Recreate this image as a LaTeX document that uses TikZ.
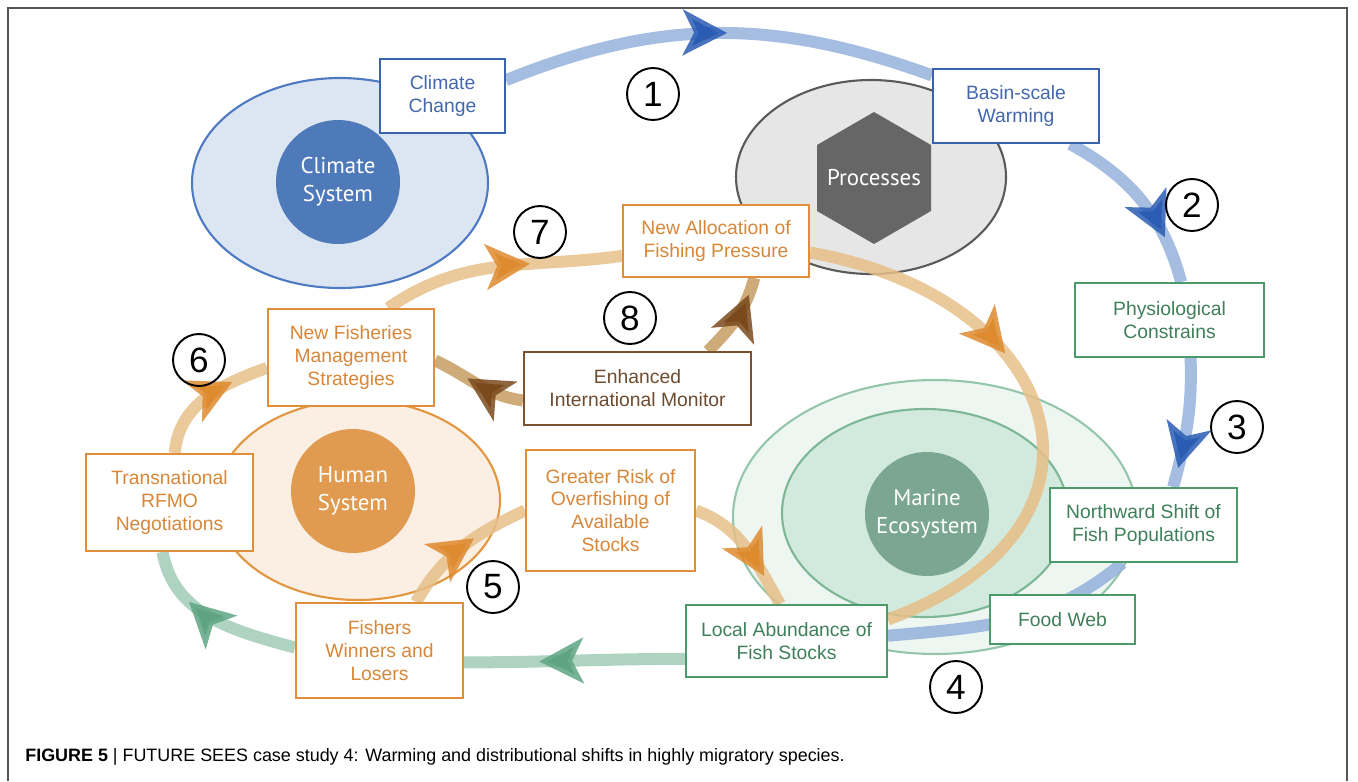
\documentclass[tikz,border=0pt]{standalone}
\usepackage{fontspec}
\setmainfont{Liberation Sans}
\newfontfamily\labfont{PT Sans}
\usetikzlibrary{arrows.meta,decorations.markings}
\pgfdeclarelayer{ell}
\pgfdeclarelayer{band}
\pgfsetlayers{ell,band,main}

\definecolor{cblue}{HTML}{3B63AC}
\definecolor{tblue}{HTML}{4468AE}
\definecolor{cgreen}{HTML}{4C9A6A}
\definecolor{tgreen}{HTML}{3F7F5A}
\definecolor{corange}{HTML}{E08E3A}
\definecolor{torange}{HTML}{D8873A}
\definecolor{cbrown}{HTML}{7B5230}
\definecolor{tbrown}{HTML}{6E4C30}
\definecolor{bandblue}{HTML}{94B1DC}
\definecolor{tipblue}{HTML}{2A5CB3}
\definecolor{bandtan}{HTML}{E6BF88}
\definecolor{tiporange}{HTML}{DE8A2E}
\definecolor{bandbrown}{HTML}{C79C62}
\definecolor{tipbrown}{HTML}{7A4A1C}
\definecolor{bandgreen}{HTML}{A0CCB6}
\definecolor{tipgreen}{HTML}{5EA483}
\definecolor{climfill}{HTML}{DCE5F2}
\definecolor{climline}{HTML}{4D7AC2}
\definecolor{climdot}{HTML}{4F7AB9}
\definecolor{procfill}{HTML}{E6E6E6}
\definecolor{procline}{HTML}{5A5A5A}
\definecolor{hexfill}{HTML}{666666}
\definecolor{humfill}{HTML}{FBEEE2}
\definecolor{humline}{HTML}{E2963F}
\definecolor{humdot}{HTML}{E09B50}
\definecolor{marfill}{HTML}{EEF6F2}
\definecolor{marline}{HTML}{95C6AB}
\definecolor{marinner}{HTML}{D2EADE}
\definecolor{marinline}{HTML}{7DB796}
\definecolor{mardot}{HTML}{7AA692}
\definecolor{framecol}{HTML}{555555}

\begin{document}
\begin{tikzpicture}[x=0.02cm, y=0.02cm,
    box/.style={draw, fill=white, line width=1.1pt, align=center, inner sep=2pt,
      font=\fontsize{11}{13}\selectfont},
    bbox/.style={box, draw=cblue, text=tblue},
    gbox/.style={box, draw=cgreen, text=tgreen},
    obox/.style={box, draw=corange, text=torange},
    rbox/.style={box, draw=cbrown, text=tbrown},
    dot/.style={circle, minimum size=2.48cm, inner sep=0, align=center, text=white,
      font=\labfont\fontsize{13}{16}\selectfont},
    num/.style={circle, draw, line width=1.1pt, minimum size=1.04cm, inner sep=0,
      font=\fontsize{20}{20}\selectfont},
    band/.style={line width=0.24cm, draw opacity=0.85},
    bandb/.style={band, draw=bandblue},
    bandt/.style={band, draw=bandtan},
    bandr/.style={band, draw=bandbrown},
    bandg/.style={band, draw=bandgreen},
    arrowat/.style 2 args={decoration={markings, mark=at position #1 with
      {\arrow{Stealth[color=#2, length=0.88cm, width=0.9cm, inset=0.22cm]}}},
      postaction=decorate}]
  \useasboundingbox (0,0) rectangle (1358,-781);
  \draw [framecol, line width=0.6pt] (8,-781) -- (8,-8) -- (1347,-8) -- (1347,-781);

  % systems
  \begin{pgfonlayer}{ell}
    \draw [climline, fill=climfill, line width=1.2pt] (340,-183) ellipse [x radius=148, y radius=105];
    \draw [procline, fill=procfill, line width=1.2pt] (871,-177) ellipse [x radius=135, y radius=97];
    \draw [humline, fill=humfill, line width=1.2pt] (358,-500) ellipse [x radius=142, y radius=100];
    \draw [marline, fill=marfill, line width=1.2pt] (935,-517) ellipse [x radius=202, y radius=137];
    \draw [marinline, fill=marinner, line width=1.2pt] (925,-513) ellipse [x radius=143, y radius=104];
    \fill [hexfill] (874,-112) -- (931,-145) -- (931,-211) -- (874,-244) -- (817,-211) -- (817,-145) -- cycle;
    \node (cs) at (338,-182) [dot, fill=climdot] {Climate\\System};
    \node (pr) at (874,-178) [dot] {Processes};
    \node (hs) at (353,-491) [dot, fill=humdot] {Human\\System};
    \node (me) at (927,-514) [dot, fill=mardot] {Marine\\Ecosystem};
  \end{pgfonlayer}

  \node (cc) at (442.5,-96) [bbox, minimum width=2.5cm, minimum height=1.48cm] {Climate\\Change};
  \node (bw) at (1016,-106) [bbox, minimum width=3.32cm, minimum height=1.48cm] {Basin-scale\\Warming};
  \node (pc) at (1169.5,-320) [gbox, minimum width=3.78cm, minimum height=1.48cm] {Physiological\\Constrains};
  \node (nw) at (1143.5,-525) [gbox, minimum width=3.74cm, minimum height=1.48cm] {Northward Shift of\\Fish Populations};
  \node (fwb) at (1062.5,-619.5) [gbox, minimum width=2.9cm, minimum height=0.98cm] {Food Web};
  \node (la) at (786.5,-641) [gbox, minimum width=4.02cm, minimum height=1.44cm] {Local Abundance of\\Fish Stocks};
  \node (fl) at (379.5,-650.5) [obox, minimum width=3.34cm, minimum height=1.9cm] {Fishers\\Winners and\\Losers};
  \node (tn) at (169.5,-502.5) [obox, minimum width=3.34cm, minimum height=1.94cm] {Transnational\\RFMO\\Negotiations};
  \node (nf) at (351,-357.5) [obox, minimum width=3.32cm, minimum height=1.94cm] {New Fisheries\\Management\\Strategies};
  \node (na) at (716,-241) [obox, minimum width=3.72cm, minimum height=1.44cm] {New Allocation of\\Fishing Pressure};
  \node (en) at (637.5,-388.5) [rbox, minimum width=4.54cm, minimum height=1.46cm] {Enhanced\\International Monitor};
  \node (gr) at (610.5,-510.5) [obox, minimum width=3.38cm, minimum height=2.42cm] {Greater Risk of\\Overfishing of\\Available\\Stocks};

  % flows
  \begin{pgfonlayer}{band}
    \draw [bandb, arrowat={0.52}{tipblue}] (cc.14) to[out=22, in=160] (bw.160);
    \draw [bandb, arrowat={0.74}{tipblue}] (bw.-35) to[out=-29, in=105] (pc.73);
    \draw [bandb, arrowat={0.85}{tipblue}] (pc.-61) to[out=-88, in=75] (nw.52);
    \draw [bandb] (nw.-119) to[out=-140, in=5] (la.3);
    \draw [bandg, arrowat={0.66}{tipgreen}] (la.190) to[out=180, in=0] (fl.-8);
    \draw [bandg, arrowat={0.67}{tipgreen}] (fl.178) to[out=165, in=-80] (tn.-98);
    \draw [bandt, arrowat={0.72}{tiporange}] (tn.84) to[out=85, in=200] (nf.187);
    \draw [bandt, arrowat={0.62}{tiporange}] (nf.53) to[out=35, in=188] (na.189);
    \draw [bandt, arrowat={0.39}{tiporange}] (na.-7) to[out=-10, in=20, looseness=1.8] (la.12);
    \draw [bandt, arrowat={0.6}{tiporange}] (fl.53) to[out=60, in=205] (gr.180);
    \draw [bandt, arrowat={0.75}{tiporange}] (gr.0) to[out=-20, in=120] (la.100);
    \draw [bandr, arrowat={0.62}{tipbrown}] (en.186) to[out=172, in=-25] (nf.-2);
    \draw [bandr, arrowat={0.8}{tipbrown}] (en.28) to[out=45, in=-105] (na.-44);
  \end{pgfonlayer}

  \node (n1) at (653,-94) [num] {1};
  \node (n2) at (1192,-205) [num] {2};
  \node (n3) at (1237,-427) [num] {3};
  \node (n4) at (956,-687) [num] {4};
  \node (n5) at (493,-587) [num] {5};
  \node (n6) at (199,-360) [num] {6};
  \node (n7) at (540,-232) [num] {7};
  \node (n8) at (630,-318) [num] {8};

  \node (cap) at (25,-761) [anchor=base west, inner sep=0, font=\fontsize{10.2}{12}\selectfont]
    {\textbf{FIGURE 5} | FUTURE SEES case study 4: Warming and distributional shifts in highly migratory species.};
\end{tikzpicture}
\end{document}
